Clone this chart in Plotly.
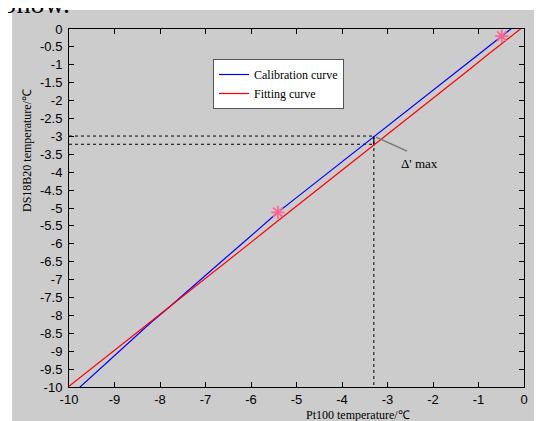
import plotly.graph_objects as go

# ---- data ----
calib_x = [-9.80, -9.40, -9.00, -8.60, -8.20, -7.80, -7.40, -7.00, -6.60, -6.20,
           -5.80, -5.41, -5.00, -4.60, -4.20, -3.80, -3.30, -2.90, -2.50, -2.10,
           -1.70, -1.30, -0.90, -0.49, -0.20]
calib_y = [-10.05, -9.59, -9.13, -8.66, -8.20, -7.77, -7.32, -6.88, -6.44, -6.00,
           -5.55, -5.12, -4.71, -4.31, -3.91, -3.51, -2.99, -2.61, -2.21, -1.81,
           -1.41, -1.01, -0.61, -0.20, 0.09]

fit_x = [-10.10, -9.60, -9.20, -8.80, -8.40, -8.00, -7.60, -7.20, -6.80, -6.40,
         -6.00, -5.60, -5.20, -4.80, -4.40, -4.00, -3.60, -3.30, -2.80, -2.40,
         -2.00, -1.60, -1.20, -0.80, -0.40, 0.05]
fit_y = [-10.08, -9.58, -9.18, -8.77, -8.37, -7.97, -7.57, -7.16, -6.76, -6.36,
         -5.96, -5.55, -5.15, -4.75, -4.35, -3.94, -3.54, -3.23, -2.74, -2.33,
         -1.93, -1.53, -1.13, -0.72, -0.32, 0.13]

star_x = [-5.41, -0.49]
star_y = [-5.12, -0.20]

dmax_x = -3.30
dmax_upper = -2.99
dmax_lower = -3.22
axis_min = -10

x_ticks = [-10, -9, -8, -7, -6, -5, -4, -3, -2, -1, 0]
x_tick_labels = ["-10", "-9", "-8", "-7", "-6", "-5", "-4", "-3", "-2", "-1", "0"]
y_ticks = [0, -0.5, -1, -1.5, -2, -2.5, -3, -3.5, -4, -4.5, -5, -5.5, -6, -6.5,
           -7, -7.5, -8, -8.5, -9, -9.5, -10]
y_tick_labels = ["0", "-0.5", "-1", "-1.5", "-2", "-2.5", "-3", "-3.5", "-4", "-4.5",
                 "-5", "-5.5", "-6", "-6.5", "-7", "-7.5", "-8", "-8.5", "-9", "-9.5", "-10"]

SERIF = "Liberation Serif, Times New Roman, serif"
SANS = "Liberation Sans, Arial, sans-serif"

fig = go.Figure()

# dashed guide lines
fig.add_trace(go.Scatter(x=[axis_min, dmax_x], y=[dmax_upper, dmax_upper], mode="lines",
                         line=dict(color="black", width=1, dash="3px,3px"), showlegend=False,
                         hoverinfo="skip"))
fig.add_trace(go.Scatter(x=[axis_min, dmax_x], y=[dmax_lower, dmax_lower], mode="lines",
                         line=dict(color="black", width=1, dash="3px,3px"), showlegend=False,
                         hoverinfo="skip"))
fig.add_trace(go.Scatter(x=[dmax_x, dmax_x], y=[dmax_upper, axis_min], mode="lines",
                         line=dict(color="black", width=1, dash="3px,3px"), showlegend=False,
                         hoverinfo="skip"))
fig.add_trace(go.Scatter(x=[dmax_x, dmax_x], y=[dmax_upper, dmax_lower], mode="lines",
                         line=dict(color="black", width=1.2), showlegend=False,
                         hoverinfo="skip"))

fig.add_trace(go.Scatter(x=calib_x, y=calib_y, mode="lines", name="Calibration curve",
                         line=dict(color="#0000ff", width=1.2)))
fig.add_trace(go.Scatter(x=fit_x, y=fit_y, mode="lines", name="Fitting curve",
                         line=dict(color="#ff0000", width=1.2)))
fig.add_trace(go.Scatter(x=star_x, y=star_y, mode="markers", showlegend=False,
                         marker=dict(symbol="asterisk-open", size=11,
                                     line=dict(color="#ff0000", width=1.8))))

# pointer line to the label
fig.add_shape(type="line", x0=-3.25, y0=-3.02, x1=-2.57, y1=-3.41,
              line=dict(color="#777777", width=1.5))

# page has an 8px body margin: work in page pixels and convert
OFF = 8
W, H = 542 - OFF, 421 - OFF
L = 69 - OFF
T = 29 - OFF
R = W - (524 - OFF)
B = H - (387 - OFF)
pw, ph = W - L - R, H - T - B


def px(xpage):
    return (xpage - OFF - L) / pw


def py(ypage):
    return 1 - (ypage - OFF - T) / ph


# grey figure background (white strip on top & left)
fig.add_shape(type="rect", xref="paper", yref="paper", x0=px(12), x1=px(560),
              y0=py(440), y1=py(10), fillcolor="#cccccc", line=dict(width=0),
              layer="below")

fig.update_layout(
    width=W, height=H,
    margin=dict(l=L, r=R, t=T, b=B),
    paper_bgcolor="white",
    plot_bgcolor="white",
    showlegend=True,
    legend=dict(x=px(213), y=py(59), xanchor="left", yanchor="top",
                bgcolor="white", bordercolor="#555555", borderwidth=1,
                font=dict(family=SERIF, size=12, color="black"),
                itemwidth=30, tracegroupgap=0),
    annotations=[
        dict(text="Δ' max", x=-2.29, y=-3.77, xref="x", yref="y", showarrow=False,
             xanchor="center", yanchor="middle",
             font=dict(family=SERIF, size=13, color="black")),
        dict(text="Pt100 temperature/℃", x=px(358), y=py(415), xref="paper", yref="paper",
             xanchor="center", yanchor="middle",
             showarrow=False, font=dict(family=SERIF, size=12, color="black")),
        dict(text="DS18B20 temperature/℃", x=px(27), y=py(151), xref="paper", yref="paper",
             xanchor="center", yanchor="middle",
             showarrow=False, textangle=-90, font=dict(family=SERIF, size=12, color="black")),
        dict(text="Show.", x=px(-1), y=py(3), xref="paper", yref="paper", xanchor="left",
             yanchor="middle", showarrow=False, font=dict(family=SERIF, size=28, color="black")),
    ],
)

fig.update_xaxes(range=[-10, 0], tickvals=x_ticks, ticktext=x_tick_labels,
                 ticks="inside", ticklen=5, tickcolor="black", showline=True,
                 linecolor="black", linewidth=1, mirror="ticks", showgrid=False,
                 zeroline=False, tickfont=dict(family=SANS, size=13, color="black"))
fig.update_yaxes(range=[-10, 0], tickvals=y_ticks, ticktext=y_tick_labels,
                 ticks="inside", ticklen=5, tickcolor="black", showline=True,
                 linecolor="black", linewidth=1, mirror="ticks", showgrid=False,
                 zeroline=False, ticklabelstandoff=3,
                 tickfont=dict(family=SANS, size=13, color="black"))

fig.write_html("out.html")
